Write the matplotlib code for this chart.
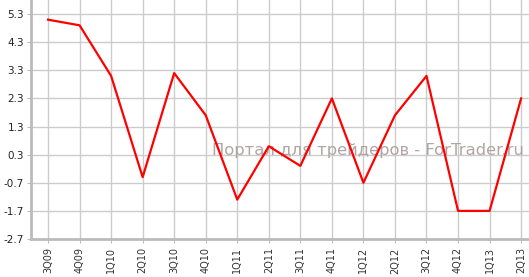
import numpy as np
import matplotlib
matplotlib.use("Agg")
import matplotlib.pyplot as plt

# Quarter labels and values
quarters = ["3Q09", "4Q09", "1Q10", "2Q10", "3Q10", "4Q10", "1Q11", "2Q11",
            "3Q11", "4Q11", "1Q12", "2Q12", "3Q12", "4Q12", "1Q13", "2Q13"]
values = [5.1, 4.9, 3.1, -0.5, 3.2, 1.7, -1.3, 0.6,
          -0.1, 2.3, -0.7, 1.7, 3.1, -1.7, -1.7, 2.3]
y_ticks = [5.3, 4.3, 3.3, 2.3, 1.3, 0.3, -0.7, -1.7, -2.7]

fig = plt.figure(figsize=(5.29, 2.77), dpi=100)
ax = fig.add_axes([31 / 529, 38 / 277, 1 - 31 / 529, 1 - 38 / 277])

x = np.arange(len(quarters))
ax.plot(x, values, color="#ff0000", lw=1.6, zorder=3)

ax.set_xlim(-0.54, len(quarters) - 0.75)
ax.set_ylim(-2.7, 5.8)
ax.set_xticks(x)
ax.set_xticklabels(quarters, rotation=90, fontsize=7, color="#333333")
ax.set_yticks(y_ticks)
ax.set_yticklabels([f"{v:.1f}" for v in y_ticks], fontsize=7.5, color="#222222")

ax.grid(True, color="#cccccc", lw=1.0)
ax.set_axisbelow(True)
for side in ["top", "right"]:
    ax.spines[side].set_visible(False)
for side in ["left", "bottom"]:
    ax.spines[side].set_color("#bbbbbb")
    ax.spines[side].set_linewidth(2)
ax.tick_params(axis="x", length=3, color="#bbbbbb", pad=3)
ax.tick_params(axis="y", length=3, color="#bbbbbb", pad=2)

# watermark
ax.text(0.99, 0.37, "Портал для трейдеров - ForTrader.ru", transform=ax.transAxes,
        ha="right", va="center", fontsize=11.8, color="#a89c9c", alpha=0.9, zorder=2)

fig.savefig("out.png", dpi=100)
